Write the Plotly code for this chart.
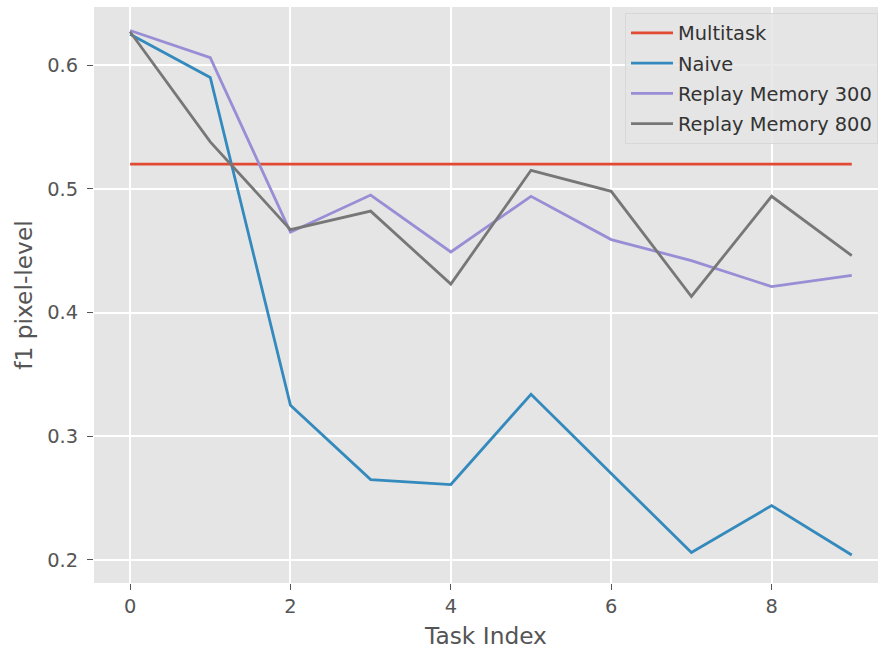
import plotly.graph_objects as go

# Task indices and per-task f1 scores
task_index = [0, 1, 2, 3, 4, 5, 6, 7, 8, 9]
multitask = [0.52] * 10
naive = [0.625, 0.590, 0.325, 0.265, 0.261, 0.334, 0.270, 0.206, 0.244, 0.204]
replay_300 = [0.628, 0.606, 0.465, 0.495, 0.449, 0.494, 0.459, 0.442, 0.421, 0.430]
replay_800 = [0.627, 0.538, 0.467, 0.482, 0.423, 0.515, 0.498, 0.413, 0.494, 0.446]

x_ticks = [0, 2, 4, 6, 8]
y_ticks = [0.2, 0.3, 0.4, 0.5, 0.6]

series = [
    ("Multitask", multitask, "#E24A33"),
    ("Naive", naive, "#348ABD"),
    ("Replay Memory 300", replay_300, "#988ED5"),
    ("Replay Memory 800", replay_800, "#777777"),
]

font_family = "DejaVu Sans"
text_color = "#555555"
tick_size = 19.4
label_size = 23.3

fig = go.Figure()
for name, values, color in series:
    fig.add_trace(go.Scatter(
        x=task_index, y=values, mode="lines", name=name,
        legendgroup=name,
        line=dict(color=color, width=2.8),
    ))

fig.update_layout(
    width=878, height=649,
    margin=dict(l=94, r=0, t=7, b=66),
    paper_bgcolor="white",
    plot_bgcolor="#E5E5E5",
    font=dict(family=font_family, color=text_color, size=tick_size),
    showlegend=True,
    legend=dict(
        x=1.0, xanchor="right", y=0.99, yanchor="top",
        bgcolor="rgba(229,229,229,0.8)",
        bordercolor="#D8D8D8", borderwidth=1,
        font=dict(family=font_family, size=tick_size, color="#333333"),
        tracegroupgap=2,
        itemwidth=42,
    ),
)

fig.update_xaxes(
    range=[-0.45, 9.327],
    tickvals=x_ticks,
    ticktext=[str(v) for v in x_ticks],
    showgrid=True, gridcolor="white", gridwidth=1.5,
    zeroline=False, showline=False,
    ticks="outside", ticklen=6, tickcolor=text_color, tickwidth=1,
    tickfont=dict(size=tick_size, color=text_color),
    title=dict(text="Task Index", font=dict(size=label_size, color=text_color), standoff=10),
)
fig.update_yaxes(
    range=[0.1814, 0.647],
    tickvals=y_ticks,
    ticktext=[f"{v:.1f}" for v in y_ticks],
    showgrid=True, gridcolor="white", gridwidth=1.5,
    zeroline=False, showline=False,
    ticks="outside", ticklen=6, tickcolor=text_color, tickwidth=1,
    ticklabelstandoff=5,
    tickfont=dict(size=tick_size, color=text_color),
    title=dict(text="f1 pixel-level", font=dict(size=label_size, color=text_color), standoff=8),
)

fig.write_html("out.html")
